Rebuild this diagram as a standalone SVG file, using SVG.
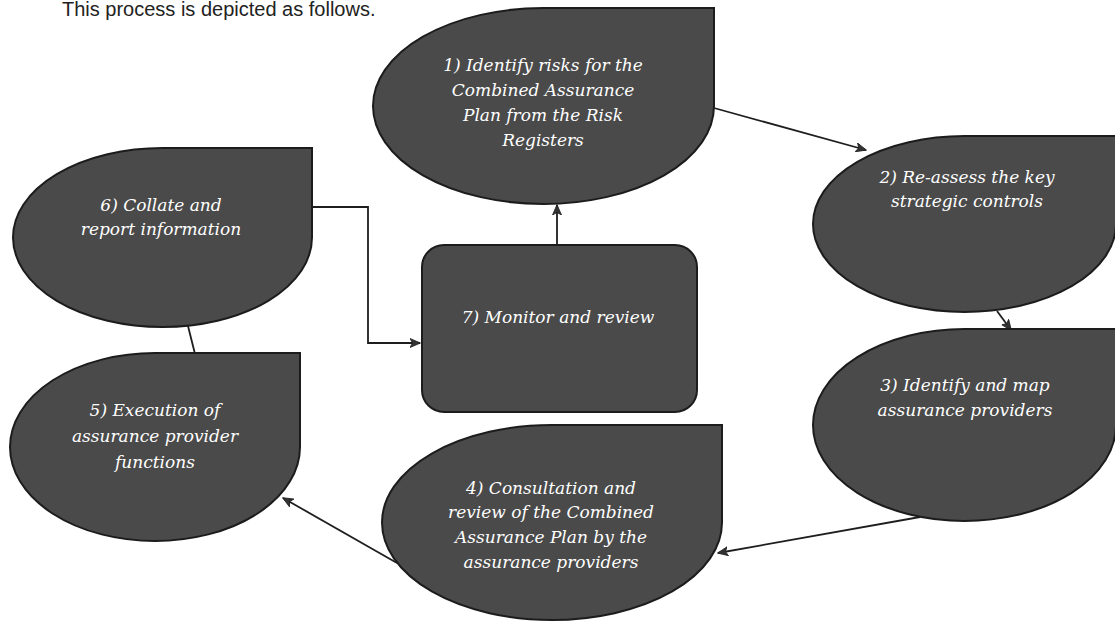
<svg xmlns="http://www.w3.org/2000/svg" width="1115" height="621" viewBox="0 0 1115 621">
<style>
.shape{fill:#4a4a4a;stroke:#1c1c1c;stroke-width:2}
.lbl{font-family:"DejaVu Serif","Liberation Serif",serif;font-style:italic;font-size:17px;fill:#ffffff;text-anchor:middle}
.conn{fill:none;stroke:#1e1e1e;stroke-width:1.8}
.title{font-family:"Liberation Sans",Arial,sans-serif;font-size:20px;fill:#222222}
</style>
<defs>
<marker id="arr" markerWidth="11" markerHeight="10" refX="10" refY="5" orient="auto" markerUnits="userSpaceOnUse">
<path d="M0,0.5 L10.5,5 L0,9.5 L2.5,5 Z" fill="#333333" stroke="#1e1e1e" stroke-width="0.8"/>
</marker>
</defs>
<rect width="1115" height="621" fill="#ffffff"/>
<text class="title" x="62" y="16">This process is depicted as follows.</text>

<g id="connectors">
<polyline class="conn" points="312,207 368,207 368,343 420,343" marker-end="url(#arr)"/>
<line class="conn" x1="557" y1="245" x2="557" y2="205" marker-end="url(#arr)"/>
<line class="conn" x1="714" y1="108" x2="866" y2="150" marker-end="url(#arr)"/>
<line class="conn" x1="997" y1="311" x2="1011" y2="330" marker-end="url(#arr)"/>
<line class="conn" x1="920" y1="517" x2="718" y2="553" marker-end="url(#arr)"/>
<line class="conn" x1="397" y1="563" x2="283" y2="498" marker-end="url(#arr)"/>
<line class="conn" x1="188" y1="326" x2="195" y2="354"/>
</g>

<g id="node1">
<path class="shape" d="M714,8 L714,106 A170.5,98 0 0 1 543.5,204 A170.5,98 0 0 1 373,106 A170.5,98 0 0 1 543.5,8 Z"/>
<text class="lbl" x="543" y="71">1) Identify risks for the</text>
<text class="lbl" x="543" y="96">Combined Assurance</text>
<text class="lbl" x="543" y="121">Plan from the Risk</text>
<text class="lbl" x="543" y="146">Registers</text>
</g>

<g id="node2">
<path class="shape" d="M1116,136 L1116,224 A151.5,88 0 0 1 964.5,312 A151.5,88 0 0 1 813,224 A151.5,88 0 0 1 964.5,136 Z"/>
<text class="lbl" x="967" y="183">2) Re-assess the key</text>
<text class="lbl" x="967" y="207">strategic controls</text>
</g>

<g id="node3">
<path class="shape" d="M1116,329 L1116,425 A151.5,96 0 0 1 964.5,521 A151.5,96 0 0 1 813,425 A151.5,96 0 0 1 964.5,329 Z"/>
<text class="lbl" x="965" y="391">3) Identify and map</text>
<text class="lbl" x="965" y="416">assurance providers</text>
</g>

<g id="node4">
<path class="shape" d="M722,425 L722,522.5 A170,97.5 0 0 1 552,620 A170,97.5 0 0 1 382,522.5 A170,97.5 0 0 1 552,425 Z"/>
<text class="lbl" x="551" y="494">4) Consultation and</text>
<text class="lbl" x="551" y="518">review of the Combined</text>
<text class="lbl" x="551" y="543">Assurance Plan by the</text>
<text class="lbl" x="551" y="568">assurance providers</text>
</g>

<g id="node5">
<path class="shape" d="M300,353 L300,447 A145,94 0 0 1 155,541 A145,94 0 0 1 10,447 A145,94 0 0 1 155,353 Z"/>
<text class="lbl" x="155" y="416">5) Execution of</text>
<text class="lbl" x="155" y="442">assurance provider</text>
<text class="lbl" x="155" y="468">functions</text>
</g>

<g id="node6">
<path class="shape" d="M312,148 L312,237.5 A149.5,89.5 0 0 1 162.5,327 A149.5,89.5 0 0 1 13,237.5 A149.5,89.5 0 0 1 162.5,148 Z"/>
<text class="lbl" x="161" y="211">6) Collate and</text>
<text class="lbl" x="161" y="235">report information</text>
</g>

<g id="node7">
<rect class="shape" x="422" y="245" width="275" height="167" rx="22" ry="22"/>
<text class="lbl" x="558" y="323">7) Monitor and review</text>
</g>
</svg>
